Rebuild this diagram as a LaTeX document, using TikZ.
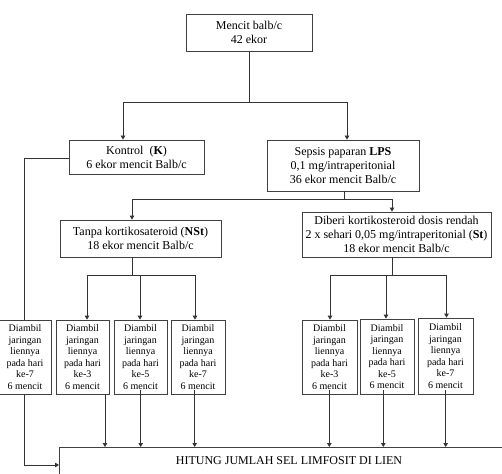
\documentclass[tikz,border=0pt]{standalone}
\usepackage{fontspec}
\setmainfont{Liberation Serif}
\usetikzlibrary{arrows.meta}
\tikzset{
  box/.style={draw=black!75, line width=0.8pt, inner sep=0pt, align=center,
    font=\fontsize{12}{13.8}\selectfont},
  smallbox/.style={draw=black!75, line width=0.8pt, inner sep=0pt, align=center,
    minimum height=74pt, font=\fontsize{10}{11.5}\selectfont},
  conn/.style={draw=black!80, line width=0.8pt},
  arr/.style={conn, -{Triangle[length=4pt,width=4.5pt]}}
}
\begin{document}
\begin{tikzpicture}[x=1pt,y=-1pt]
\useasboundingbox (0,0) rectangle (502,473);
% main boxes
\node[box, minimum width=126pt, minimum height=37pt] (top) at (249,32.5) {Mencit balb/c\\42 ekor};
\node[box, minimum width=135pt, minimum height=34pt] (k) at (136.5,157) {Kontrol\ \ (\textbf{K})\\6 ekor mencit Balb/c};
\node[box, minimum width=152pt, minimum height=51pt] (lps) at (343,165.5) {Sepsis paparan \textbf{LPS}\\0,1 mg/intraperitonial\\36 ekor mencit Balb/c};
\node[box, minimum width=161pt, minimum height=37pt] (nst) at (140.5,238.5) {Tanpa kortikosateroid (\textbf{NSt})\\18 ekor mencit Balb/c};
\node[box, minimum width=189pt, minimum height=45pt] (st) at (396.5,234.5) {Diberi kortikosteroid dosis rendah\\2 x sehari 0,05 mg/intraperitonial (\textbf{St})\\18 ekor mencit Balb/c};
% small boxes
\node[smallbox, minimum width=52pt] (b1) at (25,357) {Diambil\\jaringan\\liennya\\pada hari\\ke-7\\6 mencit};
\node[smallbox, minimum width=53pt] (b2) at (82.5,357) {Diambil\\jaringan\\liennya\\pada hari\\ke-3\\6 mencit};
\node[smallbox, minimum width=53pt] (b3) at (140.5,357) {Diambil\\jaringan\\liennya\\pada hari\\ke-5\\6 mencit};
\node[smallbox, minimum width=54pt] (b4) at (198,357) {Diambil\\jaringan\\liennya\\pada hari\\ke-7\\6 mencit};
\node[smallbox, minimum width=55pt] (b5) at (329.5,357) {Diambil\\jaringan\\liennya\\pada hari\\ke-3\\6 mencit};
\node[smallbox, minimum width=54pt, minimum height=75pt] (b6) at (387,356.5) {Diambil\\jaringan\\liennya\\pada hari\\ke-5\\6 mencit};
\node[smallbox, minimum width=55pt, minimum height=76pt] (b7) at (445.5,356) {Diambil\\jaringan\\liennya\\pada hari\\ke-7\\6 mencit};
% result box (extends beyond the page)
\node[box, minimum width=520pt, minimum height=60pt, anchor=north west] (res) at (59,447) {};
\node[font=\fontsize{12}{13.8}\selectfont, inner sep=0pt] (restext) at (289,461) {HITUNG JUMLAH SEL LIMFOSIT DI LIEN};
% connectors: top
\coordinate (j1) at (249,102);
\draw[conn] (top.south) -- (j1);
\draw[arr] (j1) -| (k.north -| 123,0);
\draw[arr] (j1) -| (lps.north -| 347,0);
% lps split
\coordinate (j2) at (344,199);
\draw[conn] (lps.south -| j2) -- (j2);
\draw[arr] (j2) -| (nst.north -| 132,0);
\draw[arr] (j2) -| (st.north -| 392,0);
% nst split
\coordinate (j3) at (132,275);
\draw[conn] (nst.south -| j3) -- (j3);
\draw[conn] (87,275) -- (195,275);
\draw[arr] (87,275) -- (b2.north -| 87,0);
\draw[arr] (140,275) -- (b3.north -| 140,0);
\draw[arr] (195,275) -- (b4.north -| 195,0);
% st split
\coordinate (j4) at (392,275);
\draw[conn] (st.south -| j4) -- (j4);
\draw[conn] (330,275) -- (446.5,275);
\draw[arr] (330,275) -- (b5.north -| 330,0);
\draw[arr] (386,275) -- (b6.north -| 386,0);
\draw[arr] (446.5,275) -- (b7.north -| 446.5,0);
% control branch
\draw[conn] (k.west |- 0,158) -| (b1.north -| 24,0);
\draw[arr] (b1.south -| 24,0) |- (res.west |- 0,465);
% to result
\draw[arr] (b2.south -| 105,0) -- (res.north -| 105,0);
\draw[arr] (140.7,390) -- (res.north -| 140.7,0);
\draw[arr] (194.7,390) -- (res.north -| 194.7,0);
\draw[arr] (329.3,390) -- (res.north -| 329.3,0);
\draw[arr] (383.3,390) -- (res.north -| 383.3,0);
\draw[arr] (445.7,390) -- (res.north -| 445.7,0);
\end{tikzpicture}
\end{document}
